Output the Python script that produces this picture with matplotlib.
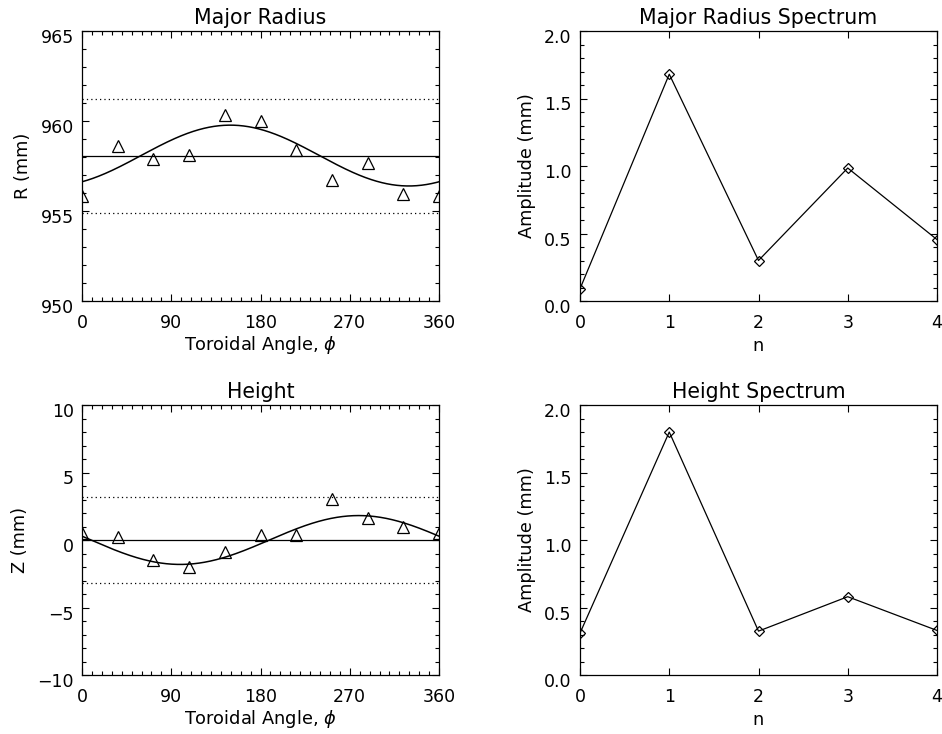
import numpy as np
import matplotlib
matplotlib.use("Agg")
import matplotlib.pyplot as plt
from matplotlib.ticker import MultipleLocator, NullLocator, FormatStrFormatter
from matplotlib.transforms import ScaledTranslation

# ---------------- data ----------------
phi_deg = [0, 36, 72, 108, 144, 180, 216, 252, 288, 324, 360]
R_vals = [955.83, 958.61, 957.89, 958.09, 960.35, 960.02, 958.37, 956.70, 957.69, 955.94, 955.83]
Z_vals = [0.55, 0.20, -1.51, -2.00, -0.89, 0.40, 0.40, 3.02, 1.63, 0.97, 0.55]

# n=1 fit parameters (mean, amplitude, phase of maximum in degrees)
R_mean, R_amp, R_phase = 958.08, 1.69, 149.5
Z_mean, Z_amp, Z_phase = 0.0, 1.81, 279.0
R_band = 3.17   # dotted tolerance band about the mean
Z_band = 3.17

n_modes = [0, 1, 2, 3, 4]
R_spec = [0.09, 1.68, 0.30, 0.985, 0.455]
Z_spec = [0.31, 1.80, 0.325, 0.58, 0.33]

# ---------------- style ----------------
plt.rcParams['font.family'] = ['DejaVu Sans']
plt.rcParams['font.size'] = 12
plt.rcParams['axes.linewidth'] = 0.9
plt.rcParams['mathtext.fontset'] = 'dejavusans'

fig = plt.figure(figsize=(9.42, 7.34), dpi=100)
W, H = 942.0, 734.0

def make_ax(l, r, t, b):
    return fig.add_axes([l / W, 1 - b / H, (r - l) / W, (b - t) / H])

ax_R = make_ax(82, 439, 31, 301)
ax_Rs = make_ax(580, 937, 31, 301)
ax_Z = make_ax(82, 439, 405, 675)
ax_Zs = make_ax(580, 937, 405, 675)

TITLE_FS = 14.8
LABEL_FS = 12.8
TICK_FS = 12.5

def style(ax):
    ax.tick_params(which='both', direction='in', top=True, right=True,
                   width=0.8, colors='black')
    ax.tick_params(which='major', length=5.0, pad=6, labelsize=TICK_FS)
    ax.tick_params(which='minor', length=2.8)
    ax.tick_params(axis='x', which='major', pad=9)
    # IDL places y tick labels slightly below their ticks
    shift = ScaledTranslation(0, -5 / 100.0, fig.dpi_scale_trans)
    for tick in ax.yaxis.get_major_ticks():
        tick.label1.set_transform(tick.label1.get_transform() + shift)

phi_fine = np.linspace(0, 360, 721)
lw = 1.1
dot = (0, (1, 2.5))

# Major radius
ax = ax_R
ax.plot(phi_fine, R_mean + R_amp * np.cos(np.radians(phi_fine - R_phase)), color='black', lw=lw)
ax.axhline(R_mean, color='black', lw=0.9)
ax.axhline(R_mean + R_band, color='black', lw=0.9, ls=dot)
ax.axhline(R_mean - R_band, color='black', lw=0.9, ls=dot)
ax.plot(phi_deg, R_vals, ls='none', marker='^', ms=8, mfc='none', mec='black', mew=0.9)
ax.set_xlim(0, 360)
ax.set_ylim(950, 965)
ax.xaxis.set_major_locator(MultipleLocator(90))
ax.xaxis.set_minor_locator(MultipleLocator(10))
ax.yaxis.set_major_locator(MultipleLocator(5))
ax.yaxis.set_minor_locator(MultipleLocator(1))
ax.set_title('Major Radius', fontsize=TITLE_FS, pad=5)
ax.set_xlabel('Toroidal Angle, $\\phi$', fontsize=LABEL_FS, labelpad=2)
ax.set_ylabel('R (mm)', fontsize=LABEL_FS, labelpad=6)
style(ax)

# Height
ax = ax_Z
ax.plot(phi_fine, Z_mean + Z_amp * np.cos(np.radians(phi_fine - Z_phase)), color='black', lw=lw)
ax.axhline(Z_mean, color='black', lw=0.9)
ax.axhline(Z_mean + Z_band, color='black', lw=0.9, ls=dot)
ax.axhline(Z_mean - Z_band, color='black', lw=0.9, ls=dot)
ax.plot(phi_deg, Z_vals, ls='none', marker='^', ms=8, mfc='none', mec='black', mew=0.9)
ax.set_xlim(0, 360)
ax.set_ylim(-10, 10)
ax.xaxis.set_major_locator(MultipleLocator(90))
ax.xaxis.set_minor_locator(MultipleLocator(10))
ax.yaxis.set_major_locator(MultipleLocator(5))
ax.yaxis.set_minor_locator(MultipleLocator(1))
ax.set_title('Height', fontsize=TITLE_FS, pad=5)
ax.set_xlabel('Toroidal Angle, $\\phi$', fontsize=LABEL_FS, labelpad=2)
ax.set_ylabel('Z (mm)', fontsize=LABEL_FS, labelpad=6)
style(ax)

# Spectra
for ax, spec, title in [(ax_Rs, R_spec, 'Major Radius Spectrum'), (ax_Zs, Z_spec, 'Height Spectrum')]:
    ax.plot(n_modes, spec, color='black', lw=0.9, marker='D', ms=5.5, mfc='none', mec='black', mew=0.9)
    ax.set_xlim(0, 4)
    ax.set_ylim(0, 2.0)
    ax.xaxis.set_major_locator(MultipleLocator(1))
    ax.xaxis.set_minor_locator(NullLocator())
    ax.yaxis.set_major_locator(MultipleLocator(0.5))
    ax.yaxis.set_minor_locator(MultipleLocator(0.1))
    ax.yaxis.set_major_formatter(FormatStrFormatter('%.1f'))
    ax.set_title(title, fontsize=TITLE_FS, pad=5)
    ax.set_xlabel('n', fontsize=LABEL_FS, labelpad=4)
    ax.set_ylabel('Amplitude (mm)', fontsize=LABEL_FS, labelpad=6)
    style(ax)

fig.savefig('out.png', dpi=100)
